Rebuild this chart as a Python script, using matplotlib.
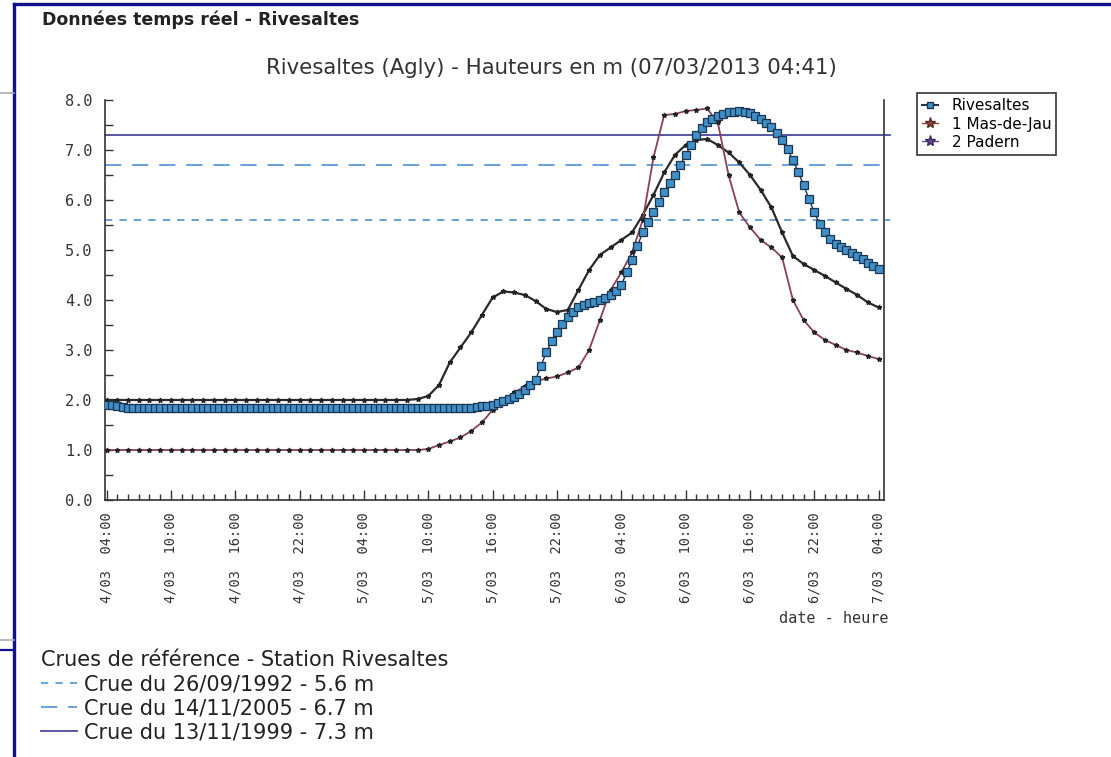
import numpy as np
import matplotlib.pyplot as plt
from matplotlib.lines import Line2D
from matplotlib.ticker import MultipleLocator

plt.rcParams['font.family'] = ['DejaVu Sans']

# hours counted from 4/03 04:00
hours = np.arange(0, 73)
riv_hours = np.arange(0, 72.5, 0.5)

# Rivesaltes, read every half hour
rivesaltes = [1.90, 1.90, 1.88, 1.85,
              1.83, 1.83, 1.83, 1.83, 1.83, 1.83, 1.83, 1.83, 1.83, 1.83, 1.83, 1.83,
              1.83, 1.83, 1.83, 1.83, 1.83, 1.83, 1.83, 1.83, 1.83, 1.83, 1.83, 1.83,
              1.83, 1.83, 1.83, 1.83, 1.83, 1.83, 1.83, 1.83, 1.83, 1.83, 1.83, 1.83,
              1.83, 1.83, 1.83, 1.83, 1.83, 1.83, 1.83, 1.83, 1.83, 1.83, 1.83, 1.83,
              1.83, 1.83, 1.83, 1.83, 1.83, 1.83, 1.83, 1.83, 1.83, 1.83, 1.83, 1.83,
              1.83, 1.83, 1.83, 1.83,
              1.84, 1.85, 1.87, 1.88, 1.90, 1.93, 1.97, 2.01, 2.05, 2.12, 2.20, 2.30,
              2.40, 2.68, 2.95, 3.17, 3.35, 3.52, 3.65, 3.76, 3.85, 3.90, 3.93, 3.96,
              4.00, 4.04, 4.10, 4.18, 4.30, 4.55, 4.80, 5.08, 5.35, 5.55, 5.75, 5.95,
              6.15, 6.33, 6.50, 6.70, 6.90, 7.10, 7.30, 7.44, 7.55, 7.62, 7.68, 7.72,
              7.75, 7.76, 7.77, 7.76, 7.73, 7.68, 7.62, 7.54, 7.45, 7.34, 7.20, 7.02,
              6.80, 6.56, 6.30, 6.02, 5.75, 5.52, 5.35, 5.22, 5.12, 5.06, 5.00, 4.94,
              4.88, 4.81, 4.74, 4.68, 4.62]

mas_de_jau = [1.00, 1.00, 1.00, 1.00, 1.00, 1.00, 1.00, 1.00, 1.00, 1.00, 1.00, 1.00,
              1.00, 1.00, 1.00, 1.00, 1.00, 1.00, 1.00, 1.00, 1.00, 1.00, 1.00, 1.00,
              1.00, 1.00, 1.00, 1.00, 1.00, 1.00,
              1.02, 1.10, 1.17, 1.25, 1.38, 1.55, 1.80, 2.00, 2.15, 2.27, 2.37, 2.43,
              2.47, 2.55, 2.65, 3.00, 3.60, 4.20, 4.55, 4.95, 5.60, 6.85, 7.70, 7.72,
              7.78, 7.80, 7.83, 7.55, 6.50, 5.75, 5.45, 5.20, 5.05, 4.85, 4.00, 3.60,
              3.35, 3.20, 3.10, 3.00, 2.95, 2.88, 2.82]

padern = [2.00, 2.00, 2.00, 2.00, 2.00, 2.00, 2.00, 2.00, 2.00, 2.00, 2.00, 2.00,
          2.00, 2.00, 2.00, 2.00, 2.00, 2.00, 2.00, 2.00, 2.00, 2.00, 2.00, 2.00,
          2.00, 2.00, 2.00, 2.00, 2.00,
          2.02, 2.08, 2.30, 2.75, 3.05, 3.35, 3.70, 4.05, 4.17, 4.15, 4.10, 3.98,
          3.82, 3.76, 3.80, 4.20, 4.60, 4.90, 5.05, 5.20, 5.35, 5.70, 6.10, 6.55,
          6.90, 7.10, 7.20, 7.22, 7.10, 6.95, 6.75, 6.50, 6.20, 5.85, 5.35, 4.88,
          4.72, 4.60, 4.48, 4.35, 4.22, 4.10, 3.95, 3.85]

tick_hours = [0, 6, 12, 18, 24, 30, 36, 42, 48, 54, 60, 66, 72]
tick_labels = ["4/03  04:00", "4/03  10:00", "4/03  16:00", "4/03  22:00",
               "5/03  04:00", "5/03  10:00", "5/03  16:00", "5/03  22:00",
               "6/03  04:00", "6/03  10:00", "6/03  16:00", "6/03  22:00",
               "7/03  04:00"]

ref_dates = ["26/09/1992", "14/11/2005", "13/11/1999"]
ref_levels = [5.6, 6.7, 7.3]
ref_colors = ["#5b9bd5", "#5b9bd5", "#4a4a9a"]
ref_styles = [(0, (4, 4)), (0, (9, 6)), "-"]

fig = plt.figure(figsize=(11.11, 7.57), dpi=100)
ax = fig.add_axes([0.0945, 0.3395, 0.7012, 0.5284])

# reference flood levels
ref_handles = []
for lvl, col, ls in zip(ref_levels, ref_colors, ref_styles):
    ax.axhline(lvl, xmin=0, xmax=1.008, color=col, ls=ls, lw=1.3, clip_on=False, zorder=1)
    ref_handles.append(Line2D([], [], color=col, ls=ls, lw=1.3))

ax.plot(hours, padern, color="#2a2a2a", lw=1.6, marker="*", ms=3.5,
        mfc="#222222", mec="#222222", zorder=3)
ax.plot(hours, mas_de_jau, color="#8a4050", lw=1.3, marker="*", ms=3.5,
        mfc="#222222", mec="#222222", zorder=3)
ax.plot(riv_hours, rivesaltes, color="#1c3550", lw=1.0, marker="s", ms=6,
        mfc="#3f8fc8", mec="#1c3550", mew=0.9, zorder=4)

ax.set_xlim(-0.15, 72.5)
ax.set_ylim(0, 8)
ax.spines["top"].set_visible(False)
for s in ["left", "bottom", "right"]:
    ax.spines[s].set_color("#333333")
    ax.spines[s].set_linewidth(1.2)

ax.set_xticks(tick_hours)
ax.set_xticklabels(tick_labels, rotation=90, fontfamily="DejaVu Sans Mono",
                   fontsize=9.8, color="#333333")
ax.xaxis.set_minor_locator(MultipleLocator(1))
ax.tick_params(axis="x", which="major", direction="in", length=7, width=1, color="#333333", pad=9)
ax.tick_params(axis="x", which="minor", direction="in", length=4, width=1, color="#333333")

ax.yaxis.set_major_locator(MultipleLocator(1))
ax.yaxis.set_minor_locator(MultipleLocator(0.5))
ax.set_yticklabels([f"{v:.1f}" for v in ax.get_yticks()], fontfamily="DejaVu Sans Mono",
                   fontsize=11, color="#333333")
ax.tick_params(axis="y", which="both", direction="in", length=6, width=1, color="#333333", pad=9)
ax.tick_params(axis="y", which="both", right=False)

fig.text(0.7995, 0.1836, "date - heure", ha="right", va="center",
         fontfamily="DejaVu Sans Mono", fontsize=11, color="#333333")

fig.text(0.496, 0.910, "Rivesaltes (Agly) - Hauteurs en m (07/03/2013 04:41)",
         ha="center", va="center", fontsize=15.3, color="#333333")
fig.text(0.038, 0.9736, "Données temps réel - Rivesaltes", ha="left", va="center",
         fontsize=12.5, fontweight="bold", color="#222222")

# station legend
st_handles = [
    Line2D([], [], color="#1c3550", lw=1.5, marker="s", ms=5, mfc="#3f8fc8", mec="#1c3550"),
    Line2D([], [], color="#8a4a3a", lw=1.0, marker="*", ms=8, mfc="#8a4a3a", mec="#5a2a20"),
    Line2D([], [], color="#6a4a8a", lw=1.0, marker="*", ms=8, mfc="#6a4a8a", mec="#3a2a5a"),
]
leg1 = fig.legend(st_handles, ["Rivesaltes", "1 Mas-de-Jau", "2 Padern"],
                  loc="upper left", bbox_to_anchor=(0.8255, 0.877), fontsize=11,
                  frameon=True, fancybox=False, edgecolor="#333333", framealpha=1,
                  handlelength=1.0, handletextpad=0.9, labelspacing=0.2,
                  borderpad=0.35, borderaxespad=0)
leg1.get_frame().set_linewidth(1.2)

# reference floods legend
leg2 = fig.legend(ref_handles,
                  [f"Crue du {d} - {l} m" for d, l in zip(ref_dates, ref_levels)],
                  title="Crues de référence - Station Rivesaltes",
                  loc="upper left", bbox_to_anchor=(0.037, 0.141), fontsize=15,
                  title_fontsize=15, alignment="left", frameon=False,
                  handlelength=1.7, handletextpad=0.35, labelspacing=0.2,
                  borderpad=0, borderaxespad=0)
for t in leg2.get_texts():
    t.set_color("#222222")
leg2.get_title().set_color("#222222")

# page frame
navy = "#10108a"
fig.add_artist(Line2D([14 / 1111, 14 / 1111], [0, 1 - 4 / 757], color=navy, lw=2.4,
                      transform=fig.transFigure))
fig.add_artist(Line2D([14 / 1111, 1], [1 - 4 / 757, 1 - 4 / 757], color=navy, lw=2.4,
                      transform=fig.transFigure))
fig.add_artist(Line2D([0, 14 / 1111], [1 - 650 / 757, 1 - 650 / 757], color=navy, lw=1.6,
                      transform=fig.transFigure))
fig.add_artist(Line2D([0, 14 / 1111], [1 - 640 / 757, 1 - 640 / 757], color="#aaaaaa", lw=1.2,
                      transform=fig.transFigure))
fig.add_artist(Line2D([0, 14 / 1111], [1 - 93 / 757, 1 - 93 / 757], color="#aaaaaa", lw=1.2,
                      transform=fig.transFigure))

fig.savefig("out.png", dpi=100)
